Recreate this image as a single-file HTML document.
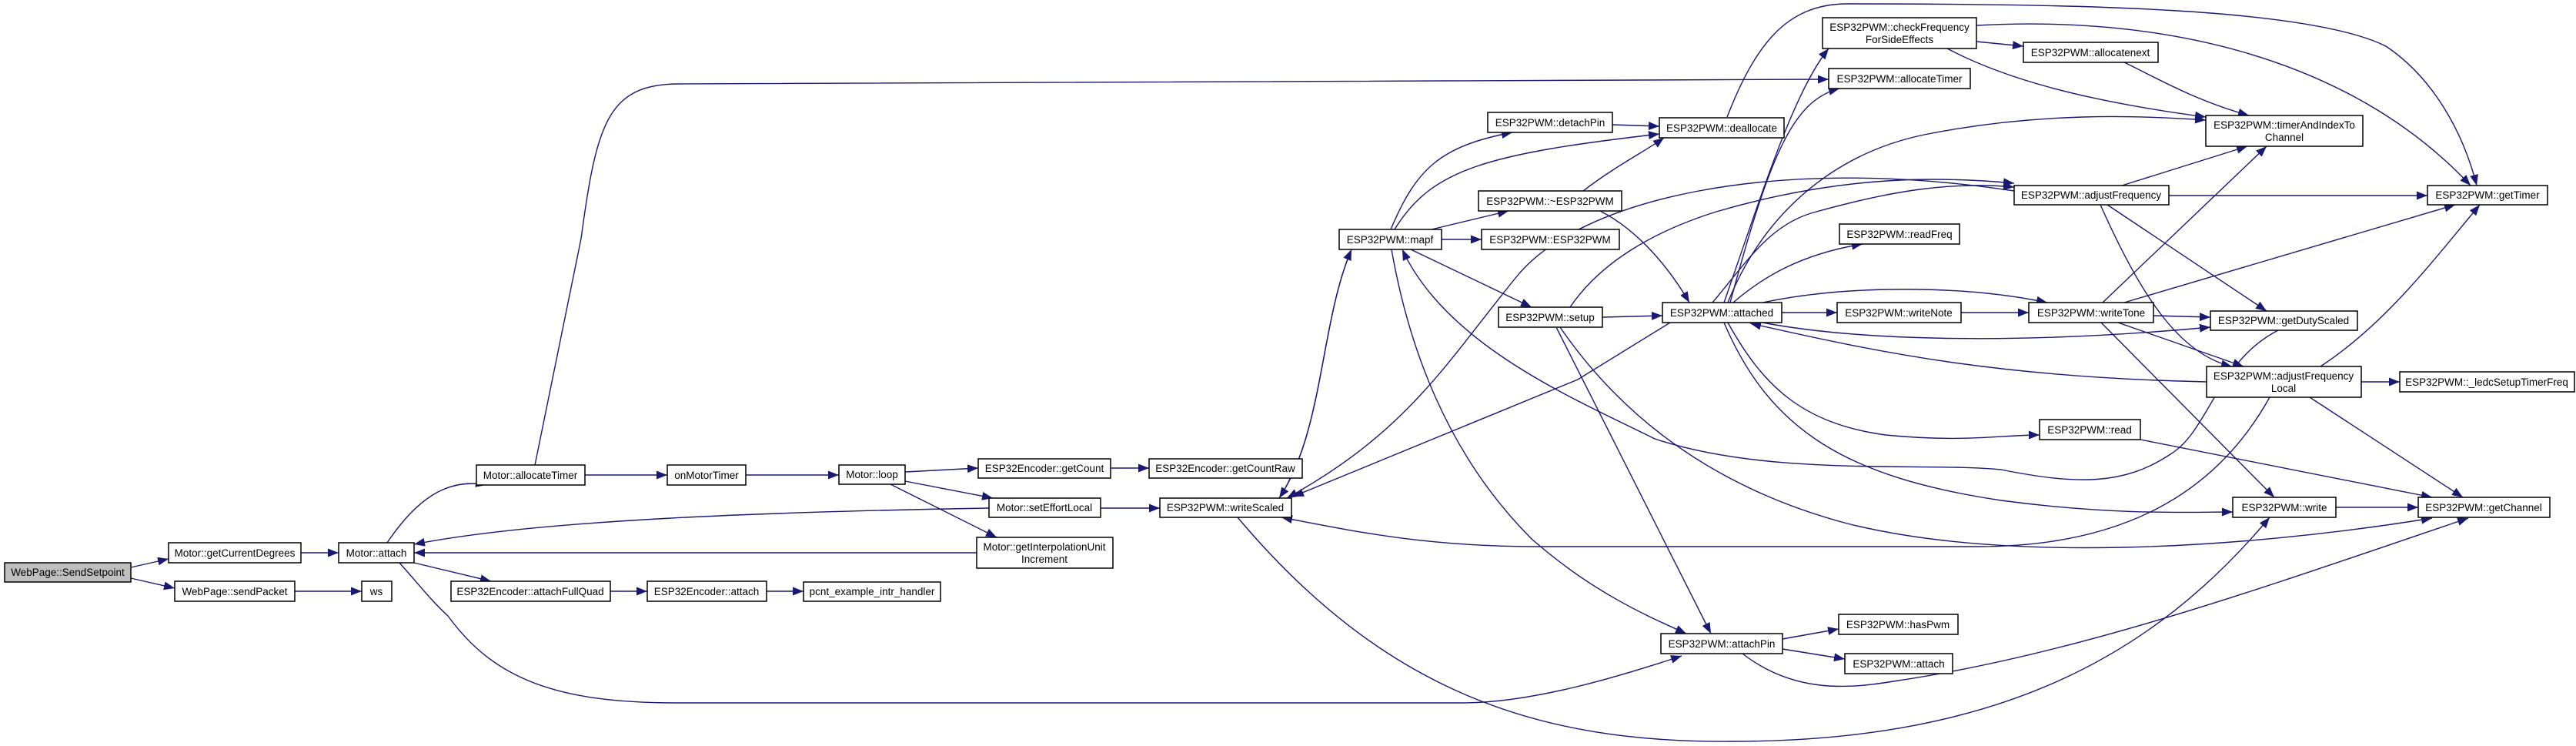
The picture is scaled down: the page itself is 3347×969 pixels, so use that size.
<!DOCTYPE html>
<html><head><meta charset="utf-8"><style>
html,body{margin:0;padding:0;background:#fff;}
svg{display:block;}
text{font-family:"Liberation Sans",sans-serif;font-size:13.5px;fill:#000;}
.n{fill:#fff;stroke:#000;stroke-width:1.5;}
.e{fill:none;stroke:#191970;stroke-width:1.4;}
</style></head><body>
<svg width="3347" height="969" viewBox="0 0 3347 969" xmlns="http://www.w3.org/2000/svg">
<defs>
<marker id="a" markerUnits="userSpaceOnUse" markerWidth="15" markerHeight="11" refX="14" refY="5.5" orient="auto">
<path d="M0,0 L14,5.5 L0,11 z" fill="#191970"/>
</marker>
</defs>
<g class="e" marker-end="url(#a)">
<path d="M170,737 L219,726"/>
<path d="M170,751 L227,764"/>
<path d="M383,768 L470,768"/>
<path d="M391,718 L440,718"/>
<path d="M503,705 C540,650 580,620 632,630"/>
<path d="M538,731 L638,755"/>
<path d="M793,768 L841,768"/>
<path d="M996,768 L1044,768"/>
<path d="M519,731 C545,760 560,780 582,800 C640,880 720,913 877,913 L1900,913 C1990,913 2100,880 2185,852"/>
<path d="M760,617 L867,617"/>
<path d="M695,604 L755,310 C775,160 790,110 880,109 L2376,103"/>
<path d="M969,617 L1090,617"/>
<path d="M1176,613 L1271,608"/>
<path d="M1443,608 L1493,608"/>
<path d="M1176,625 L1290,647"/>
<path d="M1157,629 L1295,698"/>
<path d="M1285,660 C1000,665 700,675 538,707"/>
<path d="M1269,718 L538,718"/>
<path d="M1430,660 L1507,660"/>
<path d="M1662,647 C1720,560 1715,420 1756,324"/>
<path d="M1756,324 C1715,420 1720,560 1662,647"/>
<path d="M2617,248 C2300,200 2050,260 1970,360 C1880,470 1830,560 1672,647"/>
<path d="M2170,419 L2050,493 L1680,645"/>
<path d="M2949,516 C2880,640 2760,710 2570,710 L2000,710 C1850,710 1760,690 1665,672"/>
<path d="M1608,672 C1800,900 2000,965 2250,963 C2600,963 2800,850 2949,672"/>
<path d="M1807,298 C1840,220 1870,190 1965,172"/>
<path d="M1812,298 C1860,220 1930,200 2156,174"/>
<path d="M1860,298 L1960,274"/>
<path d="M1873,311 L1925,311"/>
<path d="M1833,324 L1990,399"/>
<path d="M2095,162 L2156,164"/>
<path d="M2057,248 C2100,215 2140,195 2162,179"/>
<path d="M2079,274 C2130,300 2170,350 2195,393"/>
<path d="M2082,412 L2160,410"/>
<path d="M2022,425 L2223,823"/>
<path d="M2027,425 C2120,560 2250,640 2400,680 C2600,730 2900,715 3160,673"/>
<path d="M1808,324 C1830,450 1880,590 1990,700 C2070,770 2140,800 2191,823"/>
<path d="M2960,429 C2880,470 2870,560 2820,590 C2760,630 2700,630 2600,610 C2500,600 2300,620 2150,570 C2050,520 1880,450 1822,324"/>
<path d="M2240,393 C2290,250 2330,120 2376,63"/>
<path d="M2248,393 C2300,200 2330,130 2390,115"/>
<path d="M2244,152 C2280,60 2320,5 2400,5 C2700,5 3000,10 3100,60 C3160,100 3200,170 3218,241"/>
<path d="M2568,33 C2800,20 3050,70 3210,241"/>
<path d="M2568,54 L2629,60"/>
<path d="M2530,63 C2600,100 2700,130 2866,152"/>
<path d="M2760,81 C2800,100 2850,130 2922,150"/>
<path d="M2245,393 C2290,280 2380,200 2500,175 C2650,145 2780,150 2866,156"/>
<path d="M2225,393 C2270,340 2300,290 2360,275 C2450,250 2530,235 2617,243"/>
<path d="M2040,399 C2080,340 2150,300 2230,275 C2400,225 2530,230 2617,238"/>
<path d="M2757,241 L2920,190"/>
<path d="M2818,254 L3154,254"/>
<path d="M2738,266 L2945,404"/>
<path d="M2729,266 C2780,380 2830,460 2900,476"/>
<path d="M2252,393 C2290,360 2340,330 2420,317"/>
<path d="M2315,406 L2387,406"/>
<path d="M2548,406 L2636,406"/>
<path d="M2290,393 C2400,370 2550,370 2660,393"/>
<path d="M2290,419 C2400,440 2600,450 2872,425"/>
<path d="M2867,496 C2600,490 2450,460 2274,420"/>
<path d="M2798,410 L2872,412"/>
<path d="M2732,393 L2945,190"/>
<path d="M2760,393 L3190,266"/>
<path d="M2752,419 L2915,476"/>
<path d="M2730,419 L2955,646"/>
<path d="M3068,496 L3118,496"/>
<path d="M3015,476 C3100,420 3160,340 3222,266"/>
<path d="M3001,516 L3200,646"/>
<path d="M2245,419 C2290,500 2340,550 2450,565 C2550,575 2600,565 2650,565"/>
<path d="M2781,571 L3160,646"/>
<path d="M2240,419 C2300,560 2400,620 2600,650 C2750,670 2850,665 2901,665"/>
<path d="M3035,659 L3142,659"/>
<path d="M2264,849 C2330,900 2400,895 2460,885 C2700,850 2950,760 3207,673"/>
<path d="M2316,830 L2389,817"/>
<path d="M2316,843 L2397,856"/>
</g>
<g>
<rect x="6" y="731" width="164" height="25" style="fill:#bfbfbf;stroke:#000;stroke-width:1.5"/>
<rect class="n" x="219" y="705" width="172" height="26"/>
<rect class="n" x="227" y="755" width="156" height="26"/>
<rect class="n" x="470" y="755" width="39" height="26"/>
<rect class="n" x="440" y="705" width="98" height="26"/>
<rect class="n" x="619" y="604" width="141" height="26"/>
<rect class="n" x="867" y="604" width="102" height="26"/>
<rect class="n" x="1090" y="604" width="86" height="25"/>
<rect class="n" x="1271" y="596" width="172" height="25"/>
<rect class="n" x="1493" y="596" width="199" height="25"/>
<rect class="n" x="1285" y="647" width="145" height="25"/>
<rect class="n" x="1507" y="647" width="171" height="25"/>
<rect class="n" x="1269" y="698" width="177" height="40"/>
<rect class="n" x="586" y="755" width="207" height="26"/>
<rect class="n" x="841" y="755" width="155" height="26"/>
<rect class="n" x="1044" y="756" width="178" height="25"/>
<rect class="n" x="1740" y="298" width="133" height="26"/>
<rect class="n" x="1933" y="146" width="162" height="26"/>
<rect class="n" x="2156" y="153" width="162" height="26"/>
<rect class="n" x="1921" y="248" width="186" height="26"/>
<rect class="n" x="1925" y="298" width="179" height="26"/>
<rect class="n" x="1947" y="399" width="135" height="26"/>
<rect class="n" x="2160" y="393" width="155" height="26"/>
<rect class="n" x="2368" y="23" width="200" height="40"/>
<rect class="n" x="2376" y="89" width="184" height="26"/>
<rect class="n" x="2629" y="55" width="175" height="26"/>
<rect class="n" x="2866" y="150" width="204" height="40"/>
<rect class="n" x="2617" y="241" width="201" height="25"/>
<rect class="n" x="3154" y="241" width="156" height="25"/>
<rect class="n" x="2390" y="291" width="156" height="26"/>
<rect class="n" x="2387" y="393" width="161" height="26"/>
<rect class="n" x="2636" y="393" width="162" height="26"/>
<rect class="n" x="2872" y="404" width="191" height="25"/>
<rect class="n" x="2867" y="476" width="201" height="40"/>
<rect class="n" x="3118" y="483" width="227" height="26"/>
<rect class="n" x="2650" y="545" width="131" height="26"/>
<rect class="n" x="2901" y="646" width="134" height="26"/>
<rect class="n" x="3142" y="646" width="171" height="26"/>
<rect class="n" x="2158" y="823" width="158" height="26"/>
<rect class="n" x="2389" y="798" width="155" height="26"/>
<rect class="n" x="2397" y="849" width="140" height="26"/>
</g>
<g text-anchor="middle">
<text x="88" y="748">WebPage::SendSetpoint</text>
<text x="305" y="723">Motor::getCurrentDegrees</text>
<text x="305" y="773">WebPage::sendPacket</text>
<text x="489" y="773">ws</text>
<text x="489" y="723">Motor::attach</text>
<text x="689" y="622">Motor::allocateTimer</text>
<text x="918" y="622">onMotorTimer</text>
<text x="1133" y="621">Motor::loop</text>
<text x="1357" y="613">ESP32Encoder::getCount</text>
<text x="1592" y="613">ESP32Encoder::getCountRaw</text>
<text x="1357" y="664">Motor::setEffortLocal</text>
<text x="1592" y="664">ESP32PWM::writeScaled</text>
<text x="1357" y="715">Motor::getInterpolationUnit</text>
<text x="1357" y="731">Increment</text>
<text x="689" y="773">ESP32Encoder::attachFullQuad</text>
<text x="918" y="773">ESP32Encoder::attach</text>
<text x="1133" y="773">pcnt_example_intr_handler</text>
<text x="1806" y="316">ESP32PWM::mapf</text>
<text x="2014" y="164">ESP32PWM::detachPin</text>
<text x="2237" y="171">ESP32PWM::deallocate</text>
<text x="2014" y="266">ESP32PWM::~ESP32PWM</text>
<text x="2014" y="316">ESP32PWM::ESP32PWM</text>
<text x="2014" y="417">ESP32PWM::setup</text>
<text x="2237" y="411">ESP32PWM::attached</text>
<text x="2468" y="40">ESP32PWM::checkFrequency</text>
<text x="2468" y="56">ForSideEffects</text>
<text x="2468" y="107">ESP32PWM::allocateTimer</text>
<text x="2716" y="73">ESP32PWM::allocatenext</text>
<text x="2968" y="167">ESP32PWM::timerAndIndexTo</text>
<text x="2968" y="183">Channel</text>
<text x="2717" y="258">ESP32PWM::adjustFrequency</text>
<text x="3232" y="258">ESP32PWM::getTimer</text>
<text x="2468" y="309">ESP32PWM::readFreq</text>
<text x="2467" y="411">ESP32PWM::writeNote</text>
<text x="2717" y="411">ESP32PWM::writeTone</text>
<text x="2967" y="421">ESP32PWM::getDutyScaled</text>
<text x="2967" y="493">ESP32PWM::adjustFrequency</text>
<text x="2967" y="509">Local</text>
<text x="3231" y="501">ESP32PWM::_ledcSetupTimerFreq</text>
<text x="2715" y="563">ESP32PWM::read</text>
<text x="2968" y="664">ESP32PWM::write</text>
<text x="3227" y="664">ESP32PWM::getChannel</text>
<text x="2237" y="841">ESP32PWM::attachPin</text>
<text x="2466" y="816">ESP32PWM::hasPwm</text>
<text x="2467" y="867">ESP32PWM::attach</text>
</g>
</svg>
</body></html>
